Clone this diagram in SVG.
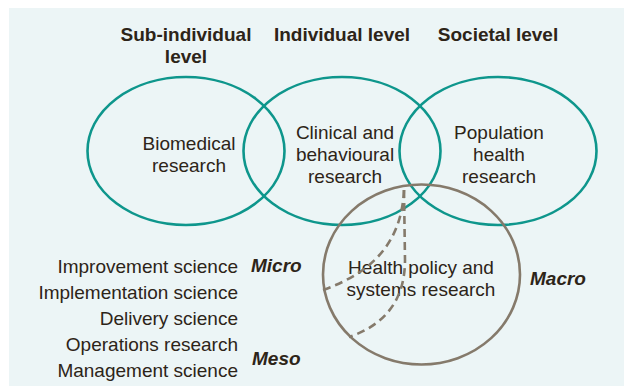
<svg xmlns="http://www.w3.org/2000/svg" width="624" height="387" viewBox="0 0 624 387">
  <style>
    text { font-family: "Liberation Sans", Arial, sans-serif; fill: #2d2418; }
    .h { font-size: 19px; font-weight: bold; text-anchor: middle; }
    .b { font-size: 19px; text-anchor: middle; }
    .l { font-size: 19px; text-anchor: end; }
    .s { font-size: 19px; font-weight: bold; font-style: italic; }
    .teal { fill: none; stroke: #0e968c; stroke-width: 2.6; }
    .grey { fill: none; stroke: #857a6b; stroke-width: 2.6; }
    .dash { fill: none; stroke: #857a6b; stroke-width: 2.6; stroke-dasharray: 8 5; }
  </style>
  <rect x="9" y="8" width="615" height="378" fill="#ecf5f6"/>

  <g id="headings">
    <text class="h" x="186" y="41">Sub-individual</text>
    <text class="h" x="186" y="63">level</text>
    <text class="h" x="342" y="41">Individual level</text>
    <text class="h" x="498" y="41">Societal level</text>
  </g>

  <g id="biomedical">
    <ellipse class="teal" cx="186" cy="151" rx="98.5" ry="74"/>
    <text class="b" x="189" y="150">Biomedical</text>
    <text class="b" x="189" y="172">research</text>
  </g>

  <g id="clinical">
    <ellipse class="teal" cx="342" cy="151" rx="98.5" ry="74"/>
    <text class="b" x="345" y="139">Clinical and</text>
    <text class="b" x="345" y="161">behavioural</text>
    <text class="b" x="345" y="183">research</text>
  </g>

  <g id="population">
    <ellipse class="teal" cx="498" cy="151" rx="98.5" ry="74"/>
    <text class="b" x="499" y="139">Population</text>
    <text class="b" x="499" y="161">health</text>
    <text class="b" x="499" y="183">research</text>
  </g>

  <g id="hpsr">
    <ellipse class="grey" cx="421.5" cy="274.5" rx="98.5" ry="90"/>
    <text class="b" x="421" y="274">Health policy and</text>
    <text class="b" x="421" y="296">systems research</text>
  </g>

  <g id="connectors">
    <path class="dash" d="M404,190 C402,235 380,270 323,290"/>
    <path class="dash" d="M404,190 L405,260 Q405,318 349,337"/>
  </g>

  <g id="fields">
    <text class="l" x="238" y="273">Improvement science</text>
    <text class="l" x="238" y="299">Implementation science</text>
    <text class="l" x="238" y="325">Delivery science</text>
    <text class="l" x="238" y="351">Operations research</text>
    <text class="l" x="238" y="377">Management science</text>
  </g>

  <g id="scales">
    <text class="s" x="251" y="272">Micro</text>
    <text class="s" x="252" y="365">Meso</text>
    <text class="s" x="530" y="285">Macro</text>
  </g>
</svg>
